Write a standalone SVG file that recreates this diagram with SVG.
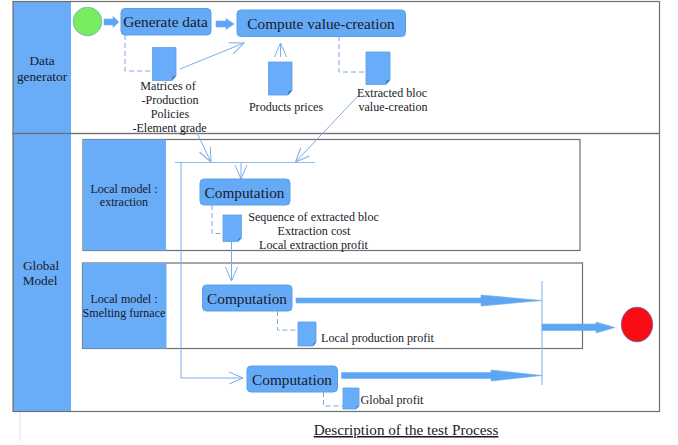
<svg xmlns="http://www.w3.org/2000/svg" width="678" height="445" viewBox="0 0 678 445">
<style>
text{font-family:"Liberation Serif","Times New Roman",serif;fill:#1a1a2a;text-anchor:middle}
.s{font-size:12.1px}.m{font-size:13.3px}.l{font-size:15.3px}
.frame{fill:none;stroke:#6e6e6e;stroke-width:1.2}
.hdr{fill:#69acf8}
.box{fill:#64aaf6;stroke:#5b9ee8;stroke-width:1}
.doc{fill:#69acfa;stroke:#5b9ee8;stroke-width:.8}
.fold{fill:#3b78c4}
.dash{fill:none;stroke:#7fa6d8;stroke-width:1;stroke-dasharray:5 3}
.flow{fill:none;stroke:#7aaee8;stroke-width:1}
.bar{fill:none;stroke:#8cbcf0;stroke-width:1.2}
.block{fill:#5ea6f2;stroke:#6fb0f4;stroke-width:.6}
</style>
<defs>
<marker id="open" markerUnits="userSpaceOnUse" markerWidth="16" markerHeight="14" refX="15" refY="7" orient="auto"><path d="M1 1L15 7L1 13" fill="none" stroke="#7aaee8" stroke-width="1"/></marker>
</defs>
<path d="M20 411V441" stroke="#e6e6e6" stroke-width="1.2" fill="none"/>
<g id="lane-data">
<rect class="hdr" x="13" y="1.500" width="58" height="132"/>
<rect class="frame" x="13" y="1.500" width="646.500" height="132"/>
<text class="m" x="42" y="65">Data</text><text class="m" x="42" y="81">generator</text>
</g>
<g id="lane-global">
<rect class="hdr" x="13" y="133.500" width="58" height="278"/>
<rect class="frame" x="13" y="133.500" width="646.500" height="278"/>
<text class="m" x="41" y="270">Global</text><text class="m" x="40" y="285">Model</text>
</g>
<g id="local-extraction">
<rect x="83" y="139.500" width="497" height="111" fill="#fff" class="frame"/>
<rect class="hdr" x="83" y="139.500" width="83" height="111"/>
<text class="s" x="124" y="193">Local model :</text><text class="s" x="124" y="206">extraction</text>
</g>
<g id="local-smelting">
<rect x="82.500" y="263" width="500" height="85.500" fill="#fff" class="frame"/>
<rect class="hdr" x="82.500" y="263" width="84" height="85.500"/>
<text class="s" x="124" y="303">Local model :</text><text class="s" x="124" y="317">Smelting furnace</text>
</g>
<g id="connectors">
<path class="dash" d="M125 35V71H152"/>
<path class="dash" d="M339 36V72H366"/>
<path class="dash" d="M212 205V233.500H223"/>
<path class="dash" d="M277.500 311V330H298"/>
<path class="dash" d="M323.500 392V406H343"/>
<path class="flow" d="M180 69L244 43" marker-end="url(#open)"/>
<path class="flow" d="M280.500 57V43" marker-end="url(#open)"/>
<path class="flow" d="M358 96L295.500 162" marker-end="url(#open)"/>
<path class="flow" d="M197 133L211 162" marker-end="url(#open)"/>
<path class="flow" d="M241 162.500V179" marker-end="url(#open)"/>
<path class="flow" d="M231.500 241.500V281" marker-end="url(#open)"/>
<path class="flow" d="M181 162.500V378H243" marker-end="url(#open)"/>
<path class="bar" d="M175 162.500H315"/>
<path class="bar" d="M542 281V385"/>
<path class="block" d="M104 19H113V16.500L119 22L113 27.500V25H104Z"/>
<path class="block" d="M216 21H226V18.500L234 24L226 29.500V27H216Z"/>
<path class="block" d="M296 298H481V295L542 300.500L481 306V303H296Z"/>
<path class="block" d="M341.500 372.500H491V370L542 375.500L491 381V378.500H341.500Z"/>
<path class="block" d="M542 324H596V322L615 327.500L596 333V330.500H542Z"/>
</g>
<g id="start"><circle cx="87.500" cy="21.500" r="14.300" fill="#79ec62" stroke="#62b0b0" stroke-width=".8"/></g>
<g id="generate-data"><rect class="box" x="121" y="8.500" width="90" height="26.500" rx="4"/><text class="l" x="165.500" y="27">Generate data</text></g>
<g id="compute-value"><rect class="box" x="237" y="10" width="168.500" height="26.500" rx="4"/><text class="l" x="321" y="29">Compute value-creation</text></g>
<g id="doc-matrices"><path class="doc" d="M152.500 47.500H176V76L172 80.500H152.500Z"/><path class="fold" d="M176 76L172 80.500L172.500 76.500Z"/>
<text class="s" x="168" y="90">Matrices of</text><text class="s" x="170" y="104">-Production</text><text class="s" x="170" y="118">Policies</text><text class="s" x="169.500" y="132">-Element grade</text></g>
<g id="doc-prices"><path class="doc" d="M268.500 62H292V90.500L288 95H268.500Z"/><path class="fold" d="M292 90.500L288 95L288.500 91Z"/>
<text class="s" x="286" y="111">Products prices</text></g>
<g id="doc-extracted"><path class="doc" d="M366 52H390V80L386 84.500H366Z"/><path class="fold" d="M390 80L386 84.500L386.500 80.500Z"/>
<text class="s" x="392" y="97">Extracted bloc</text><text class="s" x="393" y="111">value-creation</text></g>
<g id="computation-1"><rect class="box" x="200" y="179" width="90" height="26" rx="4"/><text class="l" x="244.500" y="198">Computation</text></g>
<g id="doc-sequence"><path class="doc" d="M223 215H241.500V238L238 241.500H223Z"/><path class="fold" d="M241.500 238L238 241.500L238.500 238.500Z"/>
<text class="s" x="313.500" y="221">Sequence of extracted bloc</text><text class="s" x="314" y="235">Extraction cost</text><text class="s" x="313.500" y="249">Local extraction profit</text></g>
<g id="computation-2"><rect class="box" x="202.500" y="285" width="89.500" height="26" rx="4"/><text class="l" x="247" y="304">Computation</text></g>
<g id="doc-production"><path class="doc" d="M298 322H316V342.500L313 346H298Z"/><path class="fold" d="M316 342.500L313 346L313.500 343Z"/>
<text class="s" x="377.500" y="342">Local production profit</text></g>
<g id="computation-3"><rect class="box" x="247" y="366" width="90.500" height="26" rx="4"/><text class="l" x="292" y="384.500">Computation</text></g>
<g id="doc-global"><path class="doc" d="M343 388H359V406L356 409H343Z"/><path class="fold" d="M359 406L356 409L356.500 406.500Z"/>
<text class="s" x="392" y="404">Global profit</text></g>
<g id="end"><ellipse cx="637" cy="324.500" rx="15.700" ry="17.300" fill="#f80d14" stroke="#6a5aa8" stroke-width=".8"/></g>
<text x="406" y="435" font-size="15.200" text-decoration="underline">Description of the test Process</text>
</svg>
